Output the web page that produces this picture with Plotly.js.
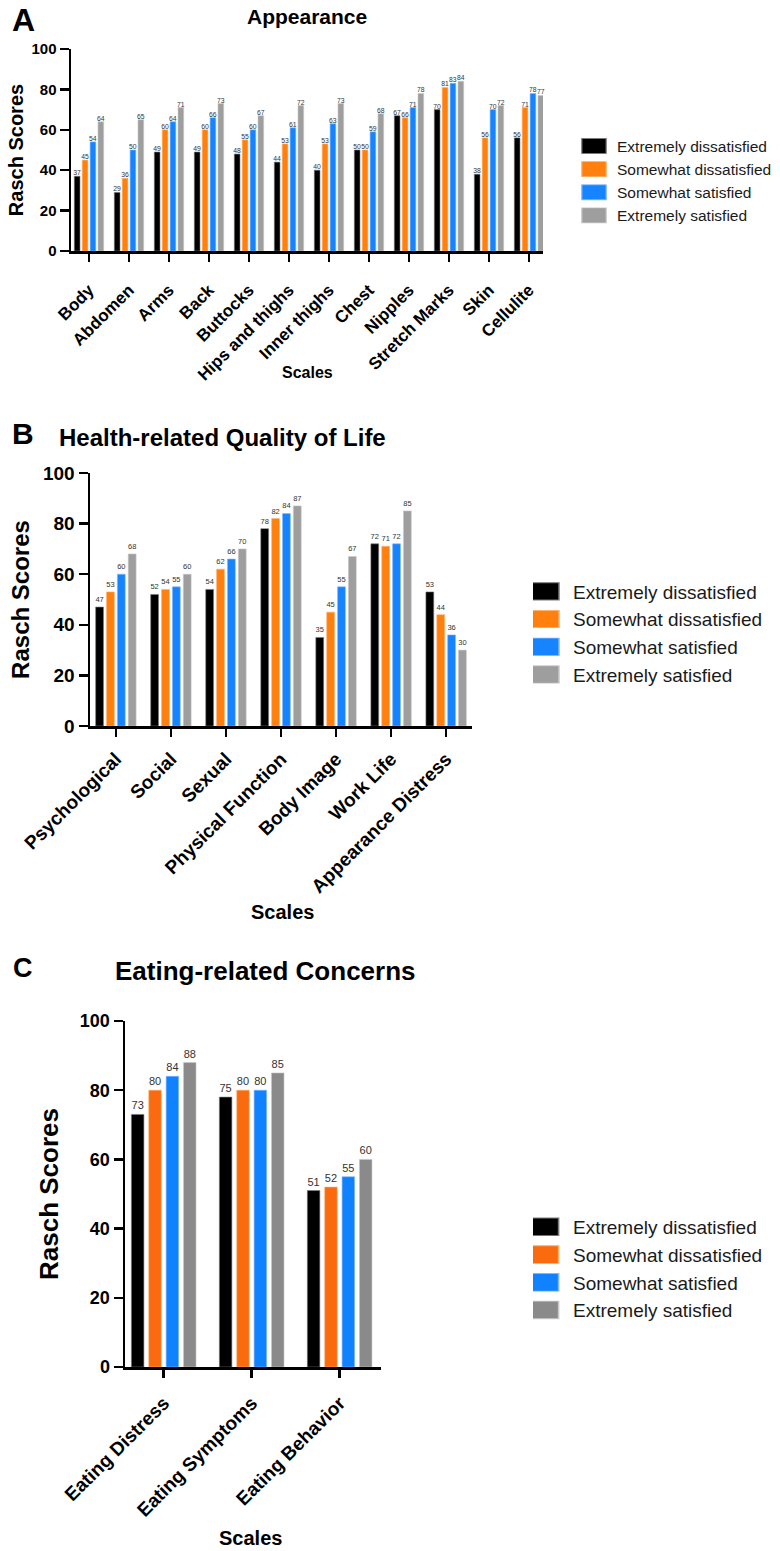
<!DOCTYPE html>
<html>
<head>
<meta charset="utf-8">
<script src="https://cdn.plot.ly/plotly-3.0.1.min.js"></script>
<style>
html,body{margin:0;padding:0;background:#ffffff;}
#chart{width:780px;height:1551px;}
</style>
</head>
<body>
<div id="chart"></div>
<script>
// ---------- DATA ----------
const seriesNames = ['Extremely dissatisfied', 'Somewhat dissatisfied', 'Somewhat satisfied', 'Extremely satisfied'];

// Panel A: Appearance
const appearanceCategories = ['Body', 'Abdomen', 'Arms', 'Back', 'Buttocks', 'Hips and thighs', 'Inner thighs', 'Chest', 'Nipples', 'Stretch Marks', 'Skin', 'Cellulite'];
const appearanceExtDissatisfied = [37, 29, 49, 49, 48, 44, 40, 50, 67, 70, 38, 56];
const appearanceSomeDissatisfied = [45, 36, 60, 60, 55, 53, 53, 50, 66, 81, 56, 71];
const appearanceSomeSatisfied = [54, 50, 64, 66, 60, 61, 63, 59, 71, 83, 70, 78];
const appearanceExtSatisfied = [64, 65, 71, 73, 67, 72, 73, 68, 78, 84, 72, 77];

// Panel B: Health-related Quality of Life
const hrqolCategories = ['Psychological', 'Social', 'Sexual', 'Physical Function', 'Body Image', 'Work Life', 'Appearance Distress'];
const hrqolExtDissatisfied = [47, 52, 54, 78, 35, 72, 53];
const hrqolSomeDissatisfied = [53, 54, 62, 82, 45, 71, 44];
const hrqolSomeSatisfied = [60, 55, 66, 84, 55, 72, 36];
const hrqolExtSatisfied = [68, 60, 70, 87, 67, 85, 30];

// Panel C: Eating-related Concerns (bar heights and printed labels read separately)
const eatingCategories = ['Eating Distress', 'Eating Symptoms', 'Eating Behavior'];
const eatingExtDissatisfied = [73, 78, 51];
const eatingSomeDissatisfied = [80, 80, 52];
const eatingSomeSatisfied = [84, 80, 55];
const eatingExtSatisfied = [88, 85, 60];
const eatingExtDissatisfiedLabels = ['73', '75', '51'];
const eatingSomeDissatisfiedLabels = ['80', '80', '52'];
const eatingSomeSatisfiedLabels = ['84', '80', '55'];
const eatingExtSatisfiedLabels = ['88', '85', '60'];

// ---------- STYLE ----------
const FONT = 'Liberation Sans, Arial, Helvetica, sans-serif';
const colorsAB = ['#000000', '#FF800E', '#1683FF', '#9E9E9E'];
const colorsC = ['#000000', '#FA6A0F', '#1182FF', '#8A8A8A'];
const outlines = ['#7a7a7a', '#ffb06a', '#7fb8ff', '#c8c8c8'];

function makeTraces(cats, seriesVals, seriesLabels, colors, xa, ya, legendId, labelSize) {
  return seriesVals.map((vals, i) => ({
    type: 'bar',
    name: seriesNames[i],
    x: cats,
    y: vals,
    xaxis: xa,
    yaxis: ya,
    legend: legendId,
    marker: { color: colors[i], line: { color: outlines[i], width: 0.6 } },
    text: seriesLabels ? seriesLabels[i] : vals.map(String),
    textposition: 'outside',
    textangle: 0,
    constraintext: 'none',
    cliponaxis: false,
    textfont: { family: FONT, size: labelSize, color: '#333333' },
    outsidetextfont: { family: FONT, size: labelSize, color: '#333333' },
    hoverinfo: 'skip'
  }));
}

const traces = [].concat(
  makeTraces(appearanceCategories,
    [appearanceExtDissatisfied, appearanceSomeDissatisfied, appearanceSomeSatisfied, appearanceExtSatisfied],
    null, colorsAB, 'x', 'y', 'legend', 6.8),
  makeTraces(hrqolCategories,
    [hrqolExtDissatisfied, hrqolSomeDissatisfied, hrqolSomeSatisfied, hrqolExtSatisfied],
    null, colorsAB, 'x2', 'y2', 'legend2', 7.5),
  makeTraces(eatingCategories,
    [eatingExtDissatisfied, eatingSomeDissatisfied, eatingSomeSatisfied, eatingExtSatisfied],
    [eatingExtDissatisfiedLabels, eatingSomeDissatisfiedLabels, eatingSomeSatisfiedLabels, eatingExtSatisfiedLabels],
    colorsC, 'x3', 'y3', 'legend3', 11)
);

const W = 780, H = 1551;
const px = v => v / W;
const py = v => 1 - v / H;

function xAxis(d0, d1, range, anchor, tickSize, labelStandoff) {
  return {
    domain: [px(d0), px(d1)], range: range, type: 'category', anchor: anchor,
    showline: true, linecolor: '#000', linewidth: 2.5,
    ticks: 'outside', ticklen: 8, tickwidth: 2.5, tickcolor: '#000',
    ticklabelstandoff: labelStandoff,
    tickangle: -45, tickfont: { family: FONT, size: tickSize, color: '#000', weight: 700 },
    showgrid: false, zeroline: false, fixedrange: true
  };
}
function yAxis(d0, d1, anchor, tickSize, titleSize, standoff) {
  return {
    domain: [py(d1), py(d0)], range: [0, 100], anchor: anchor,
    tick0: 0, dtick: 20,
    showline: true, linecolor: '#000', linewidth: 2.5,
    ticks: 'outside', ticklen: 9, tickwidth: 2.5, tickcolor: '#000',
    tickfont: { family: FONT, size: tickSize, color: '#000', weight: 700 },
    showgrid: false, zeroline: false, fixedrange: true,
    title: { text: 'Rasch Scores', font: { family: FONT, size: titleSize, color: '#000', weight: 700 }, standoff: standoff }
  };
}
function legendAt(left, top, size) {
  return {
    x: px(left), y: py(top), xanchor: 'left', yanchor: 'top',
    bgcolor: 'rgba(0,0,0,0)', borderwidth: 0,
    font: { family: FONT, size: size, color: '#1a1a1a' },
    traceorder: 'normal'
  };
}
function label(text, x, y, size, weight) {
  return {
    text: text, xref: 'paper', yref: 'paper', x: px(x), y: py(y),
    xanchor: 'center', yanchor: 'middle', showarrow: false,
    font: { family: FONT, size: size, color: '#000', weight: weight }
  };
}

const layout = {
  width: W, height: H,
  margin: { l: 0, r: 0, t: 0, b: 0 },
  paper_bgcolor: '#ffffff', plot_bgcolor: '#ffffff',
  font: { family: FONT, color: '#000' },
  barmode: 'group', bargap: 0.21, bargroupgap: 0.28,
  showlegend: true,
  xaxis: xAxis(71, 543, [-0.45, 11.35], 'y', 17, 12),
  yaxis: yAxis(49, 251, 'x', 15, 20, 3),
  xaxis2: xAxis(90, 472, [-0.47, 6.47], 'y2', 19, 4),
  yaxis2: yAxis(473, 726, 'x2', 19, 24, 7),
  xaxis3: xAxis(125, 381, [-0.44, 2.47], 'y3', 19, 7),
  yaxis3: yAxis(1021, 1367, 'x3', 18, 26, 14),
  legend: legendAt(577, 129.4, 15.5),
  legend2: legendAt(533, 572.5, 19),
  legend3: legendAt(533, 1208, 19),
  annotations: [
    label('A', 23, 20, 32, 700),
    label('Appearance', 307, 16, 21, 700),
    label('Scales', 307, 373, 16, 700),
    label('B', 23, 433, 30, 700),
    label('Health-related Quality of Life', 222, 437, 24, 700),
    label('Scales', 282, 912, 20, 700),
    label('C', 23, 968, 27, 700),
    label('Eating-related Concerns', 265, 971, 26, 700),
    label('Scales', 250, 1538, 20, 700)
  ]
};

Plotly.newPlot('chart', traces, layout, { displayModeBar: false, staticPlot: true }).then(function () {
  // enlarge legend swatches to the rectangular boxes of the original
  const swatch = { legend: 'translate(-3,0) scale(2.03,1.25)', legend2: 'translate(-9,0) scale(2.5,1.44)', legend3: 'translate(-10,0) scale(2.6,1.47)' };
  Object.keys(swatch).forEach(function (id) {
    document.querySelectorAll('g.' + id + ' .legendpoints path').forEach(function (p) {
      const t = p.getAttribute('transform') || '';
      p.setAttribute('transform', t + ' ' + swatch[id]);
    });
  });
});
</script>
</body>
</html>
